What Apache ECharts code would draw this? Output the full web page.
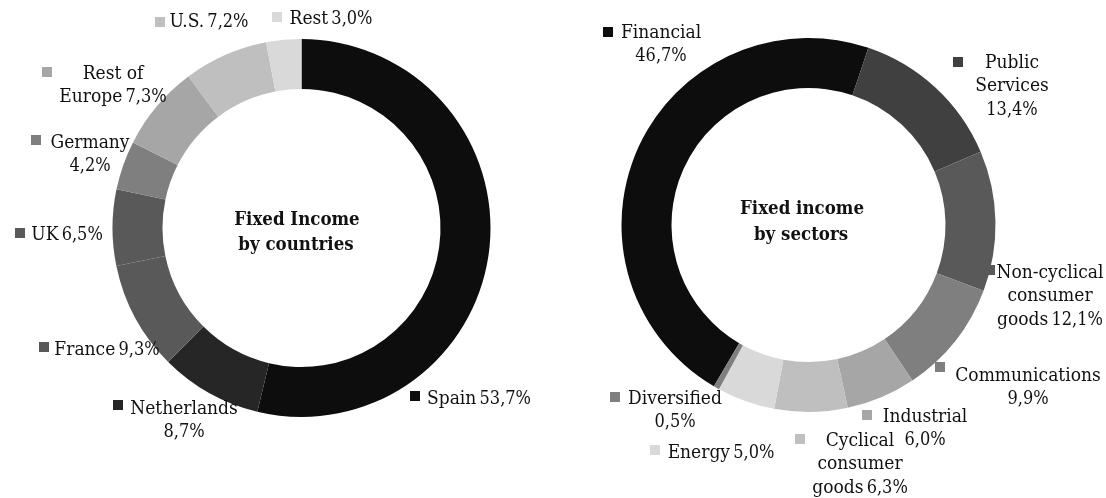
<!DOCTYPE html>
<html>
<head>
<meta charset="utf-8">
<script src="https://cdn.jsdelivr.net/npm/echarts@6/dist/echarts.min.js"></script>
<style>
  html, body { margin: 0; padding: 0; background: #fff; }
  #chart { width: 1106px; height: 498px; }
</style>
</head>
<body>
<div id="chart"></div>
<script>
// Fixed income portfolio breakdown: by country and by sector (%)
const countryNames = ['Spain', 'Netherlands', 'France', 'UK', 'Germany', 'Rest of Europe', 'U.S.', 'Rest'];
const countryValues = [53.7, 8.7, 9.3, 6.5, 4.2, 7.3, 7.2, 3.0];
const countryText = ['Spain {v}', 'Netherlands\n{v}', 'France {v}', 'UK {v}', 'Germany\n{v}', 'Rest of\nEurope {v}', 'U.S. {v}', 'Rest {v}'];
const countryColors = ['#0d0d0d', '#262626', '#595959', '#595959', '#7f7f7f', '#a6a6a6', '#bfbfbf', '#d9d9d9'];

const sectorNames = ['Financial', 'Public Services', 'Non-cyclical consumer goods', 'Communications', 'Industrial', 'Cyclical consumer goods', 'Energy', 'Diversified'];
const sectorValues = [46.7, 13.4, 12.1, 9.9, 6.0, 6.3, 5.0, 0.5];
const sectorText = ['Financial\n{v}', 'Public\nServices\n{v}', 'Non-cyclical\nconsumer\ngoods {v}', 'Communications\n{v}', 'Industrial\n{v}', 'Cyclical\nconsumer\ngoods {v}', 'Energy {v}', 'Diversified\n{v}'];
const sectorColors = ['#0d0d0d', '#404040', '#595959', '#7f7f7f', '#a6a6a6', '#bfbfbf', '#d9d9d9', '#7f7f7f'];

// Label placement: [centre x, first-line centre y] for text, [x, y] for the key squares
const countryLabelPos = [[479, 399], [184, 409], [107, 350], [67, 235], [90, 143], [113, 74], [209, 22], [331, 19]];
const countrySquarePos = [[415, 396], [118, 405], [44, 347], [20, 233], [36, 140], [47, 72], [160, 22], [277, 17]];
const sectorLabelPos = [[661, 33], [1012, 63], [1050, 273], [1028, 376], [925, 417], [860, 441], [721, 453], [675, 399]];
const sectorSquarePos = [[608, 32], [958, 62], [990, 270], [940, 367], [867, 415], [800, 439], [655, 450], [615, 397]];

const FONT = "'DejaVu Serif Condensed', 'DejaVu Serif', serif";
const LINE_H = 23.5;

const fmt = v => v.toFixed(1).replace('.', ',') + '%';

// Turn a label template into rich text: words in style t, the percentage in style v
function richLabel(template, value) {
  const val = fmt(value);
  return template.split('\n').map(line => {
    if (line === '{v}') return '{v|' + val + '}';
    if (line.indexOf(' {v}') >= 0) return '{t|' + line.replace(' {v}', '') + '}{v|\u2009' + val + '}';
    return '{t|' + line + '}';
  }).join('\n');
}

function buildData(names, values, colors) {
  return names.map((n, i) => ({ name: n, value: values[i], itemStyle: { color: colors[i] } }));
}
function buildSquareData(names, values, colors) {
  return names.map((n, i) => ({
    name: n, value: values[i],
    itemStyle: { color: 'rgba(0,0,0,0)' },
    label: { rich: { s: { width: 10, height: 10, backgroundColor: colors[i] } } }
  }));
}

function donut(center, radius, startAngle, names, values, colors, texts, pos) {
  return {
    type: 'pie', z: 2,
    center: center, radius: radius, startAngle: startAngle, clockwise: true,
    avoidLabelOverlap: false, silent: true,
    data: buildData(names, values, colors),
    itemStyle: { borderWidth: 0 },
    label: {
      show: true,
      formatter: p => richLabel(texts[p.dataIndex], p.value),
      fontFamily: FONT, fontSize: 19, color: '#111', lineHeight: LINE_H, align: 'center',
      rich: {
        t: { fontFamily: FONT, fontSize: 19, color: '#111', lineHeight: LINE_H },
        v: { fontFamily: FONT, fontSize: 18, color: '#111', lineHeight: LINE_H }
      }
    },
    labelLine: { show: false },
    labelLayout: p => ({
      x: pos[p.dataIndex][0],
      y: pos[p.dataIndex][1] - LINE_H / 2,
      align: 'center', verticalAlign: 'top'
    })
  };
}

function keySquares(center, radius, startAngle, names, values, colors, pos) {
  return {
    type: 'pie', z: 1,
    center: center, radius: radius, startAngle: startAngle, clockwise: true,
    avoidLabelOverlap: false, silent: true,
    data: buildSquareData(names, values, colors),
    label: { show: true, formatter: '{s|}' },
    labelLine: { show: false },
    labelLayout: p => ({
      x: pos[p.dataIndex][0], y: pos[p.dataIndex][1],
      align: 'center', verticalAlign: 'middle'
    })
  };
}

const chart = echarts.init(document.getElementById('chart'), null, { renderer: 'canvas' });

const leftCenter = [301.5, 228], leftRadius = [139, 189];
const rightCenter = [808.5, 225], rightRadius = [137, 187];
const rightStart = 239.6;

chart.setOption({
  backgroundColor: '#ffffff',
  animation: false,
  graphic: [
    { type: 'text', x: 297, y: 220, style: { text: 'Fixed Income', font: 'bold 18.5px ' + FONT, fill: '#111', align: 'center', verticalAlign: 'middle' } },
    { type: 'text', x: 296, y: 245, style: { text: 'by countries', font: 'bold 18.5px ' + FONT, fill: '#111', align: 'center', verticalAlign: 'middle' } },
    { type: 'text', x: 802, y: 209, style: { text: 'Fixed income', font: 'bold 18.5px ' + FONT, fill: '#111', align: 'center', verticalAlign: 'middle' } },
    { type: 'text', x: 801, y: 235, style: { text: 'by sectors', font: 'bold 18.5px ' + FONT, fill: '#111', align: 'center', verticalAlign: 'middle' } }
  ],
  series: [
    keySquares(leftCenter, leftRadius, 90, countryNames, countryValues, countryColors, countrySquarePos),
    donut(leftCenter, leftRadius, 90, countryNames, countryValues, countryColors, countryText, countryLabelPos),
    keySquares(rightCenter, rightRadius, rightStart, sectorNames, sectorValues, sectorColors, sectorSquarePos),
    donut(rightCenter, rightRadius, rightStart, sectorNames, sectorValues, sectorColors, sectorText, sectorLabelPos)
  ]
});
</script>
</body>
</html>
